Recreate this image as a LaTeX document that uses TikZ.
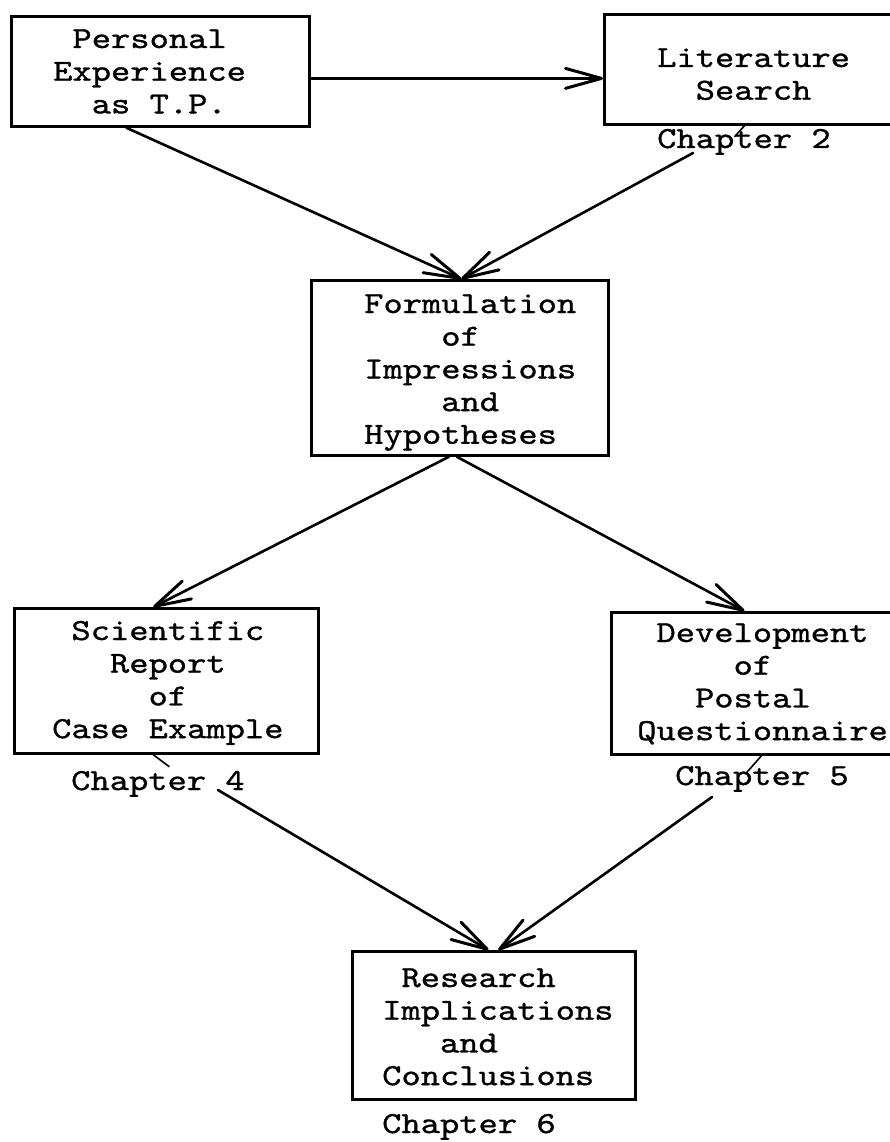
\documentclass[tikz,border=0pt]{standalone}
\usepackage{fontspec}
\newfontfamily\twfont{lmmono10-regular.otf}[FakeBold=1.0, FakeStretch=1.2]
\usetikzlibrary{arrows.meta}
\newcommand\twtext[1]{\begin{tabular}[t]{@{}l@{}}#1\end{tabular}}
\newcommand\ind[1]{\hphantom{#1}}
\frenchspacing
\begin{document}
\begin{tikzpicture}[x=1pt,y=-1pt,
  box/.style={draw, line width=2.8pt, rectangle, inner sep=0pt, anchor=north west},
  txt/.style={anchor=base west, inner sep=0pt, font=\fontsize{30.6}{32.7}\selectfont\twfont},
  arr/.style={line width=2.6pt, line cap=round, -{Straight Barb[length=36pt,width=20pt,line width=3pt,round]}},
  tick/.style={line width=1.6pt}]
\useasboundingbox (0,0) rectangle (890,1142);
\clip (0,0) rectangle (890,1142);
% boxes
\node[box, minimum width=298pt, minimum height=110pt] (exp) at (10,15) {};
\node[box, minimum width=293pt, minimum height=110pt] (lit) at (603,13) {};
\node[box, minimum width=297pt, minimum height=175pt] (form) at (310,279) {};
\node[box, minimum width=304pt, minimum height=145pt] (sci) at (13,607) {};
\node[box, minimum width=286pt, minimum height=142pt] (dev) at (610,611) {};
\node[box, minimum width=283pt, minimum height=148pt] (res) at (351,950) {};
% texts
\node[txt] (exp-t) at (53,48) {\twtext{\ind{x}Personal\\Experience\\\ind{xx}as T.P.}};
\node[txt] (lit-t) at (657,67) {\twtext{Literature\\\ind{xx}Search}};
\node[txt] (form-t) at (364,313) {\twtext{Formulation\\\ind{xxxx}of\\Impressions\\\ind{xxxx}and\\Hypotheses}};
\node[txt] (sci-t) at (52,640) {\twtext{\ind{x}Scientific\\\ind{xxx}Report\\\ind{xxxxx}of\\Case Example}};
\node[txt] (dev-t) at (637,642) {\twtext{\ind{x}Development\\\ind{xxxxx}of\\\ind{xxx}Postal\\Questionnaire}};
\node[txt] (res-t) at (382,987) {\twtext{\ind{x}Research\\Implications\\\ind{xxx}and\\Conclusions}};
\node[txt] (ch2) at (657,148) {\twtext{Chapter 2}};
\node[txt] (ch4) at (71,790) {\twtext{Chapter 4}};
\node[txt] (ch5) at (675,785) {\twtext{Chapter 5}};
\node[txt] (ch6) at (382,1133) {\twtext{Chapter 6}};
% free arrow starts
\coordinate (a3s) at (693,153);
\coordinate (a6s) at (218,790);
\coordinate (a7s) at (712,797);
% connectors
\draw[arr] ([yshift=-7pt]exp.east) -- ([yshift=-9pt]lit.west);
\draw[arr] ([xshift=-34pt]exp.south) -- ([xshift=1.5pt]form.north);
\draw[arr] (a3s) -- ([xshift=1.5pt]form.north);
\draw[arr] ([xshift=-11pt]form.south) -- ([xshift=-13pt]sci.north);
\draw[arr] ([xshift=-3pt]form.south) -- ([xshift=-10pt]dev.north);
\draw[arr] (a6s) -- ([xshift=-5.5pt]res.north);
\draw[arr] (a7s) -- ([xshift=4.5pt]res.north);
% small stray strokes
\draw[tick] ([xshift=-6.5pt]lit.south) -- ++(-10,11);
\draw[tick] ([xshift=-13pt]sci.south) -- ++(16,12);
\draw[tick] ([xshift=7pt]dev.south) -- ++(-15,17);
\end{tikzpicture}
\end{document}
